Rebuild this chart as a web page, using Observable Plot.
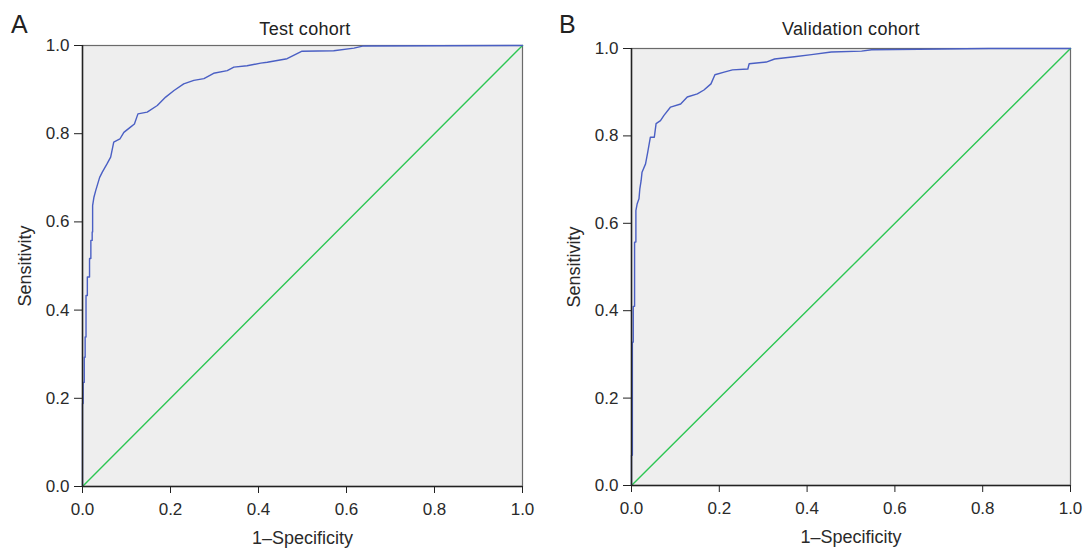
<!DOCTYPE html>
<html>
<head>
<meta charset="utf-8">
<script src="https://cdn.jsdelivr.net/npm/d3@7"></script>
<script src="https://cdn.jsdelivr.net/npm/@observablehq/plot@0.6"></script>
<style>
  html, body { margin: 0; padding: 0; background: #fff; }
  #wrap { position: relative; width: 1086px; height: 548px; font-family: "Liberation Sans", Arial, sans-serif; color: #222; }
  .panel { position: absolute; top: 0; }
  .letter { position: absolute; font-size: 25px; line-height: 25px; }
  .title { position: absolute; font-size: 18px; line-height: 18px; letter-spacing: 0.3px; transform: translateX(-50%); white-space: nowrap; }
</style>
</head>
<body>
<div id="wrap"></div>
<script>
// ---- Data ----
const panelLetters = ["A", "B"];
const panelTitles = ["Test cohort", "Validation cohort"];
const xAxisLabel = "1\u2013Specificity";
const yAxisLabel = "Sensitivity";
const tickValues = [0, 0.2, 0.4, 0.6, 0.8, 1.0];

const testFpr = [0,0,0.0015,0.0015,0.004,0.004,0.006,0.006,0.008,0.008,
  0.011,0.011,0.016,0.016,0.019,0.019,0.022,0.022,0.023,0.023,
  0.026,0.030,0.039,0.045,0.056,0.064,0.071,0.085,0.094,0.109,
  0.118,0.126,0.147,0.170,0.189,0.208,0.230,0.253,0.276,0.298,
  0.329,0.344,0.374,0.405,0.420,0.465,0.499,0.571,0.617,0.639,
  1.0];
const testTpr = [0,0.188,0.188,0.236,0.236,0.293,0.293,0.339,0.339,0.433,
  0.433,0.475,0.475,0.517,0.517,0.558,0.558,0.577,0.577,0.637,
  0.656,0.671,0.701,0.713,0.732,0.747,0.781,0.788,0.803,0.815,
  0.822,0.845,0.849,0.864,0.883,0.898,0.913,0.921,0.925,0.937,
  0.943,0.951,0.954,0.960,0.962,0.970,0.987,0.988,0.994,0.999,
  1.0];

const valFpr = [0,0,0.002,0.002,0.004,0.004,0.007,0.007,0.010,0.010,
  0.013,0.017,0.019,0.022,0.024,0.032,0.037,0.043,0.052,0.056,
  0.066,0.074,0.089,0.112,0.127,0.150,0.165,0.181,0.190,0.211,
  0.230,0.265,0.268,0.307,0.326,0.371,0.410,0.455,0.524,0.547,
  0.814,1.0];
const valTpr = [0,0.069,0.069,0.328,0.328,0.41,0.41,0.557,0.557,0.629,
  0.645,0.656,0.679,0.698,0.717,0.736,0.763,0.797,0.797,0.828,
  0.835,0.847,0.866,0.873,0.889,0.896,0.905,0.919,0.940,0.946,
  0.951,0.953,0.965,0.969,0.976,0.981,0.986,0.992,0.994,0.997,
  1.0,1.0];

const diagX = [0, 1];
const diagY = [0, 1];

// ---- Drawing ----
const wrap = document.getElementById("wrap");

function panel(fpr, tpr, m) {
  return Plot.plot({
    width: 543,
    height: 548,
    marginLeft: m.left, marginRight: m.right, marginTop: m.top, marginBottom: m.bottom,
    style: { fontFamily: "Liberation Sans, Arial, sans-serif", fontSize: "17px", color: "#2a2a2a", background: "transparent" },
    x: { domain: [0, 1] },
    y: { domain: [0, 1] },
    marks: [
      Plot.frame({ fill: "#eeeeee", stroke: "#6a6a6a", strokeWidth: 1.2 }),
      Plot.line(d3.range(diagX.length), { x: diagX, y: diagY, stroke: "#2dc653", strokeWidth: 1.4 }),
      Plot.line(d3.range(fpr.length), { x: fpr, y: tpr, stroke: "#4a5fc4", strokeWidth: 1.4 }),
      Plot.ruleX([0], { stroke: "#222", strokeWidth: 1.5 }),
      Plot.ruleY([0], { stroke: "#222", strokeWidth: 1.5 }),
      Plot.axisX({ ticks: tickValues, tickFormat: d3.format(".1f"), tickSize: 7, tickPadding: 9, fontSize: 17,
        stroke: "#222" }),
      Plot.axisX({ ticks: [], label: xAxisLabel, labelAnchor: "center", labelArrow: "none", labelOffset: 57,
        fontSize: 18, letterSpacing: 0.2 }),
      Plot.axisY({ ticks: tickValues, tickFormat: d3.format(".1f"), tickSize: 8, tickPadding: 5, fontSize: 17,
        stroke: "#222" }),
      Plot.axisY({ ticks: [], label: yAxisLabel, labelAnchor: "center", labelArrow: "none", labelOffset: 64,
        fontSize: 18, letterSpacing: 0.4 })
    ]
  });
}

const configs = [
  { left: 0, fpr: testFpr, tpr: testTpr, m: { left: 82, right: 21, top: 45, bottom: 62 }, letterX: 11, titleX: 305 },
  { left: 543, fpr: valFpr, tpr: valTpr, m: { left: 88, right: 16, top: 48, bottom: 63 }, letterX: 559, titleX: 851 }
];

configs.forEach((c, i) => {
  const div = document.createElement("div");
  div.className = "panel";
  div.style.left = c.left + "px";
  div.appendChild(panel(c.fpr, c.tpr, c.m));
  wrap.appendChild(div);

  const letter = document.createElement("div");
  letter.className = "letter";
  letter.style.left = c.letterX + "px";
  letter.style.top = "12px";
  letter.textContent = panelLetters[i];
  wrap.appendChild(letter);

  const title = document.createElement("div");
  title.className = "title";
  title.style.left = c.titleX + "px";
  title.style.top = "20px";
  title.textContent = panelTitles[i];
  wrap.appendChild(title);
});
</script>
</body>
</html>
